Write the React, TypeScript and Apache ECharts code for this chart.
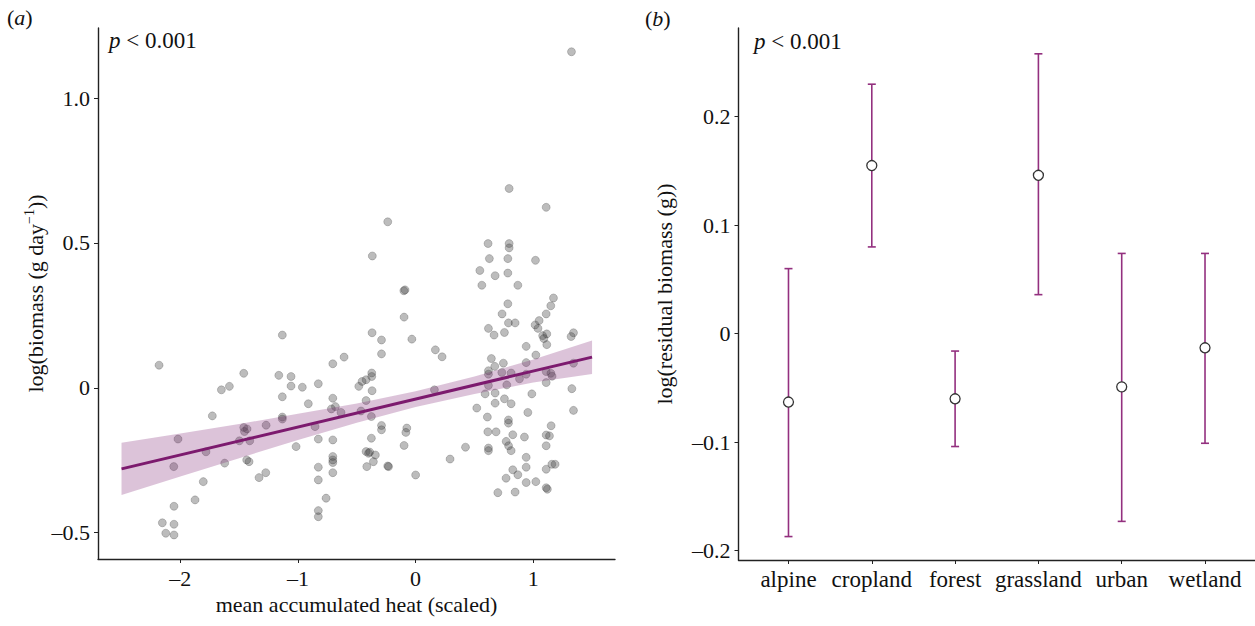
import React, { useEffect, useRef } from "react";
import * as echarts from "echarts";

// ---------- Panel (a): biomass vs accumulated heat ----------
const heatBiomassPoints: [number, number][] = [
  [1.325, 1.16], [0.795, 0.688], [1.11, 0.623], [-0.237, 0.573], [-0.368, 0.455],
  [-0.1, 0.335], [-0.09, 0.338], [0.616, 0.498], [0.795, 0.498], [0.795, 0.483],
  [0.627, 0.446], [0.784, 0.446], [1.019, 0.44], [0.546, 0.405], [0.676, 0.387],
  [0.784, 0.396], [0.563, 0.354], [0.869, 0.354], [1.172, 0.31], [0.784, 0.29],
  [1.149, 0.283], [0.735, 0.255], [1.11, 0.255], [0.789, 0.224], [0.846, 0.224],
  [1.05, 0.232], [1.016, 0.217], [1.04, 0.205], [0.619, 0.205], [0.667, 0.182],
  [0.755, 0.191], [1.115, 0.186], [1.08, 0.18], [1.09, 0.17], [1.342, 0.19],
  [1.322, 0.177], [1.115, 0.149], [0.94, 0.143], [0.225, 0.107], [0.644, 0.101],
  [1.022, 0.113], [0.673, 0.074], [0.746, 0.085], [0.94, 0.087], [1.342, 0.085],
  [0.619, 0.059], [0.619, 0.047], [0.733, 0.053], [0.812, 0.051], [0.883, 0.031],
  [0.94, 0.047], [1.11, 0.056], [1.15, 0.05], [1.16, 0.04], [0.619, 0.008],
  [0.775, 0.01], [1.11, 0.018], [1.328, -0.003], [0.591, -0.021], [0.676, -0.018],
  [0.988, -0.021], [0.755, -0.038], [0.812, -0.055], [0.676, -0.053], [0.52, -0.07],
  [0.954, -0.085], [1.342, -0.078], [0.61, -0.101], [0.789, -0.111], [0.789, -0.122],
  [1.152, -0.131], [0.614, -0.152], [0.684, -0.152], [0.826, -0.162], [0.925, -0.17],
  [1.11, -0.163], [1.138, -0.166], [0.424, -0.205], [0.619, -0.208], [0.619, -0.217],
  [0.77, -0.185], [0.79, -0.2], [0.812, -0.217], [1.11, -0.2], [0.293, -0.246],
  [0.94, -0.24], [0.826, -0.283], [0.869, -0.3], [0.94, -0.274], [1.11, -0.281],
  [1.158, -0.264], [1.186, -0.264], [0.769, -0.312], [0.94, -0.327], [1.022, -0.324],
  [1.11, -0.345], [1.12, -0.35], [0.699, -0.362], [0.846, -0.36],
  [-0.098, 0.244], [-0.37, 0.19], [-0.29, 0.165], [-0.032, 0.168], [-0.29, 0.117],
  [-0.608, 0.106], [-0.704, 0.083], [0.168, 0.131], [-0.373, 0.051], [-0.373, 0.039],
  [-0.421, 0.028], [-0.455, 0.022], [-0.483, 0.005], [-0.37, -0.01], [0.16, -0.007],
  [-0.704, -0.036], [-0.421, -0.044], [-0.682, -0.065], [-0.634, -0.085], [-0.464, -0.08],
  [-0.376, -0.099], [-0.29, -0.13], [-0.29, -0.145], [-0.075, -0.139], [-0.083, -0.154],
  [-0.704, -0.18], [-0.376, -0.174], [-0.098, -0.199], [-0.421, -0.22], [-0.4, -0.226],
  [-0.39, -0.222], [-0.342, -0.232], [-0.704, -0.237], [-0.704, -0.249], [-0.704, -0.258],
  [-0.359, -0.255], [-0.415, -0.272], [-0.237, -0.27], [-0.23, -0.272], [-0.704, -0.293],
  [0.0, -0.301],
  [-2.181, 0.078], [-1.133, 0.182], [-1.461, 0.05], [-1.583, 0.005], [-1.651, -0.007],
  [-1.163, 0.043], [-1.059, 0.039], [-1.059, 0.006], [-0.963, 0.002], [-0.827, 0.014],
  [-1.133, -0.031], [-0.912, -0.055], [-0.716, -0.073], [-1.728, -0.097], [-1.133, -0.101],
  [-1.133, -0.108], [-1.461, -0.137], [-1.433, -0.142], [-1.455, -0.151], [-1.271, -0.129],
  [-0.855, -0.134], [-2.02, -0.177], [-1.498, -0.183], [-1.41, -0.183], [-0.827, -0.177],
  [-1.016, -0.203], [-1.782, -0.221], [-1.436, -0.249], [-1.416, -0.255], [-1.623, -0.26],
  [-2.056, -0.272], [-0.827, -0.274], [-1.274, -0.293], [-1.331, -0.31], [-0.827, -0.318],
  [-1.805, -0.324], [-0.761, -0.381], [-1.875, -0.387], [-2.054, -0.409], [-0.827, -0.424],
  [-0.827, -0.445], [-2.153, -0.466], [-2.054, -0.471], [-2.124, -0.502], [-2.054, -0.508],
];

const fitX = [-2.5, 1.5];
const fitY = [-0.28, 0.106];

const bandX = [-2.5, -2, -1.5, -1, -0.5, 0, 0.5, 1, 1.5];
const bandLower = [-0.37, -0.306, -0.243, -0.18, -0.121, -0.066, -0.021, 0.018, 0.048];
const bandUpper = [-0.19, -0.158, -0.125, -0.09, -0.054, -0.012, 0.039, 0.098, 0.163];

const leftXTicks = [-2, -1, 0, 1];
const leftYTicks = [-0.5, 0, 0.5, 1.0];

// ---------- Panel (b): residual biomass by habitat ----------
const habitats = ["alpine", "cropland", "forest", "grassland", "urban", "wetland"];
const habitatMean = [-0.063, 0.155, -0.06, 0.146, -0.049, -0.013];
const habitatLower = [-0.187, 0.08, -0.104, 0.036, -0.173, -0.101];
const habitatUpper = [0.06, 0.23, -0.016, 0.258, 0.074, 0.074];
const rightYTicks = [-0.2, -0.1, 0, 0.1, 0.2];

const FONT = "'Liberation Serif', 'Times New Roman', serif";
const AXIS_COLOR = "#222";
const TEXT_COLOR = "#111";
const PURPLE_LINE = "#7c1a6e";
const PURPLE_BAR = "#93307f";
const FS = 22;

const fmtNum = (digits: number) => (v: number) => {
  if (Math.abs(v) < 1e-9) return "0";
  return (v < 0 ? "\u2013" : "") + Math.abs(v).toFixed(digits);
};

const axisCommon = {
  axisLine: { show: true, onZero: false, lineStyle: { color: AXIS_COLOR, width: 1.4 } },
  splitLine: { show: false },
};

export default function App() {
  const ref = useRef<HTMLDivElement>(null);

  useEffect(() => {
    if (!ref.current) return;
    const chart = echarts.init(ref.current, null, { renderer: "svg" });

    const labelStyle = { fontFamily: FONT, fontSize: FS, color: TEXT_COLOR };
    const italicRich = { i: { fontFamily: FONT, fontSize: 23, fontStyle: "italic", fill: TEXT_COLOR } };
    const panelRich = { i: { fontFamily: FONT, fontSize: FS, fontStyle: "italic", fill: TEXT_COLOR } };

    const option: any = {
      animation: false,
      backgroundColor: "#fff",
      grid: [
        { left: 98, top: 28, width: 517, height: 531 },
        { left: 738.5, top: 28, width: 516.5, height: 532 },
      ],
      xAxis: [
        {
          gridIndex: 0,
          type: "value",
          min: -2.7,
          max: 1.695,
          ...axisCommon,
          axisTick: { show: true, length: 4, customValues: leftXTicks, lineStyle: { color: AXIS_COLOR } },
          axisLabel: { ...labelStyle, customValues: leftXTicks, formatter: fmtNum(0), margin: 8 },
          name: "mean accumulated heat (scaled)",
          nameLocation: "middle",
          nameGap: 34,
          nameTextStyle: { fontFamily: FONT, fontSize: FS, color: TEXT_COLOR },
        },
        {
          gridIndex: 1,
          type: "value",
          min: -0.6,
          max: 5.6,
          ...axisCommon,
          axisTick: { show: true, length: 4, customValues: [0, 1, 2, 3, 4, 5], lineStyle: { color: AXIS_COLOR } },
          axisLabel: {
            ...labelStyle,
            fontSize: 23,
            customValues: [0, 1, 2, 3, 4, 5],
            formatter: (v: number) => habitats[Math.round(v)] ?? "",
            margin: 8,
          },
        },
      ],
      yAxis: [
        {
          gridIndex: 0,
          type: "value",
          min: -0.591,
          max: 1.242,
          ...axisCommon,
          axisTick: { show: true, length: 4, customValues: leftYTicks, lineStyle: { color: AXIS_COLOR } },
          axisLabel: { ...labelStyle, customValues: leftYTicks, formatter: fmtNum(1), margin: 8 },
          name: "{n|log(biomass (g day}{s|\u22121}{n|))}",
          nameLocation: "middle",
          nameGap: 50,
          nameRotate: 90,
          nameTextStyle: {
            fontFamily: FONT,
            fontSize: FS,
            color: TEXT_COLOR,
            rich: {
              n: { fontFamily: FONT, fontSize: FS, color: TEXT_COLOR, lineHeight: 26 },
              s: { fontFamily: FONT, fontSize: 14, color: TEXT_COLOR, lineHeight: 14, verticalAlign: "top" },
            },
          },
        },
        {
          gridIndex: 1,
          type: "value",
          min: -0.2086,
          max: 0.2818,
          ...axisCommon,
          axisTick: { show: true, length: 4, customValues: rightYTicks, lineStyle: { color: AXIS_COLOR } },
          axisLabel: { ...labelStyle, customValues: rightYTicks, formatter: fmtNum(1), margin: 8 },
          name: "log(residual biomass (g))",
          nameLocation: "middle",
          nameGap: 63,
          nameRotate: 90,
          nameTextStyle: { fontFamily: FONT, fontSize: FS, color: TEXT_COLOR },
        },
      ],
      series: [
        {
          type: "scatter",
          xAxisIndex: 0,
          yAxisIndex: 0,
          data: heatBiomassPoints,
          symbol: "circle",
          symbolSize: 8,
          itemStyle: {
            color: "rgba(70,70,70,0.45)",
            borderColor: "rgba(30,30,30,0.35)",
            borderWidth: 0.8,
          },
          silent: true,
          z: 2,
        },
        {
          type: "custom",
          xAxisIndex: 0,
          yAxisIndex: 0,
          data: [[bandX[0], bandLower[0]]],
          silent: true,
          z: 3,
          renderItem: (_params: any, api: any) => {
            const pts: number[][] = [];
            for (let i = 0; i < bandX.length; i++) pts.push(api.coord([bandX[i], bandUpper[i]]));
            for (let i = bandX.length - 1; i >= 0; i--) pts.push(api.coord([bandX[i], bandLower[i]]));
            return {
              type: "polygon",
              shape: { points: pts },
              style: { fill: "rgba(130,40,120,0.28)", stroke: "none" },
            };
          },
        },
        {
          type: "line",
          xAxisIndex: 0,
          yAxisIndex: 0,
          data: fitX.map((x, i) => [x, fitY[i]]),
          showSymbol: false,
          lineStyle: { color: PURPLE_LINE, width: 3 },
          silent: true,
          z: 4,
        },
        {
          type: "custom",
          xAxisIndex: 1,
          yAxisIndex: 1,
          data: habitats.map((_, i) => [i, habitatLower[i], habitatUpper[i]]),
          silent: true,
          z: 3,
          renderItem: (_params: any, api: any) => {
            const x = api.value(0);
            const lo = api.coord([x, api.value(1)]);
            const hi = api.coord([x, api.value(2)]);
            const w = 4;
            const style = { stroke: PURPLE_BAR, lineWidth: 1.6 };
            return {
              type: "group",
              children: [
                { type: "line", shape: { x1: lo[0], y1: lo[1], x2: hi[0], y2: hi[1] }, style },
                { type: "line", shape: { x1: lo[0] - w, y1: lo[1], x2: lo[0] + w, y2: lo[1] }, style },
                { type: "line", shape: { x1: hi[0] - w, y1: hi[1], x2: hi[0] + w, y2: hi[1] }, style },
              ],
            };
          },
        },
        {
          type: "scatter",
          xAxisIndex: 1,
          yAxisIndex: 1,
          data: habitats.map((_, i) => [i, habitatMean[i]]),
          symbol: "circle",
          symbolSize: 10,
          itemStyle: { color: "#ffffff", borderColor: "#333", borderWidth: 1.3, opacity: 1 },
          silent: true,
          z: 5,
        },
      ],
      graphic: [
        {
          type: "text",
          left: 7,
          top: 6,
          style: { text: "({i|a})", font: `${FS}px ${FONT}`, fill: TEXT_COLOR, rich: panelRich },
        },
        {
          type: "text",
          left: 645,
          top: 7,
          style: { text: "({i|b})", font: `${FS}px ${FONT}`, fill: TEXT_COLOR, rich: panelRich },
        },
        {
          type: "text",
          left: 109,
          top: 29,
          style: { text: "{i|p} < 0.001", font: `23px ${FONT}`, fill: TEXT_COLOR, rich: italicRich },
        },
        {
          type: "text",
          left: 754,
          top: 30,
          style: { text: "{i|p} < 0.001", font: `23px ${FONT}`, fill: TEXT_COLOR, rich: italicRich },
        },
      ],
    };

    chart.setOption(option);
    return () => chart.dispose();
  }, []);

  return (
    <div
      ref={ref}
      style={{ position: "fixed", left: 0, top: 0, width: 1255, height: 626, background: "#fff" }}
    />
  );
}
